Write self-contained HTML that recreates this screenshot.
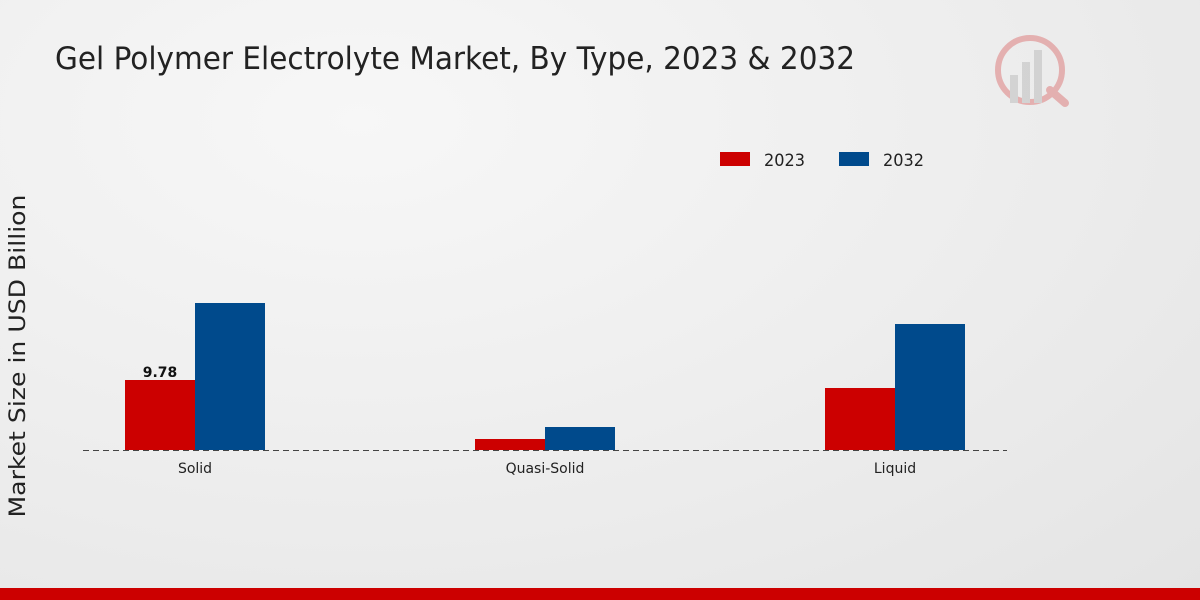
<!DOCTYPE html>
<html><head><meta charset="utf-8"><style>
html,body{margin:0;padding:0;width:1200px;height:600px;overflow:hidden}
body{background:radial-gradient(ellipse at 30% 20%,#f7f7f7 0%,#ececec 60%,#e4e4e4 100%);font-family:"DejaVu Sans","Liberation Sans",sans-serif}
</style></head><body>
<svg width="1200" height="600" xmlns="http://www.w3.org/2000/svg" style="position:absolute;left:0;top:0">
<text x="55" y="69" font-size="31" fill="#222" textLength="800" lengthAdjust="spacingAndGlyphs" font-family="DejaVu Sans, sans-serif">Gel Polymer Electrolyte Market, By Type, 2023 &amp; 2032</text>
<g opacity="0.25">
<circle cx="1030" cy="70" r="32" fill="none" stroke="#c00" stroke-width="6"/>
<rect x="1010" y="75" width="8" height="28" fill="#888"/><rect x="1022" y="62" width="8" height="41" fill="#888"/><rect x="1034" y="50" width="8" height="53" fill="#888"/>
<line x1="1050" y1="90" x2="1065" y2="103" stroke="#c00" stroke-width="8" stroke-linecap="round"/>
</g>
<rect x="720" y="152" width="30" height="14" fill="#cc0000"/>
<text x="764" y="166" font-size="17" fill="#222" textLength="41" lengthAdjust="spacingAndGlyphs">2023</text>
<rect x="839" y="152" width="30" height="14" fill="#004a8c"/>
<text x="883" y="166" font-size="17" fill="#222" textLength="41" lengthAdjust="spacingAndGlyphs">2032</text>
<text transform="translate(25,356) rotate(-90)" text-anchor="middle" font-size="22" fill="#222" textLength="323" lengthAdjust="spacingAndGlyphs">Market Size in USD Billion</text>
<rect x="125" y="380" width="70" height="70" fill="#cc0000"/>
<rect x="195" y="303" width="70" height="147" fill="#004a8c"/>
<rect x="475" y="439" width="70" height="11" fill="#cc0000"/>
<rect x="545" y="427" width="70" height="23" fill="#004a8c"/>
<rect x="825" y="388" width="70" height="62" fill="#cc0000"/>
<rect x="895" y="324" width="70" height="126" fill="#004a8c"/>
<line x1="83" y1="450.5" x2="1007" y2="450.5" stroke="#444" stroke-width="1" stroke-dasharray="6,4"/>
<text x="160" y="377" text-anchor="middle" font-size="14" font-weight="bold" fill="#111">9.78</text>
<text x="195" y="473" text-anchor="middle" font-size="14" fill="#222">Solid</text>
<text x="545" y="473" text-anchor="middle" font-size="14" fill="#222">Quasi-Solid</text>
<text x="895" y="473" text-anchor="middle" font-size="14" fill="#222">Liquid</text>
<rect x="0" y="588" width="1200" height="12" fill="#cc0000"/>
</svg>
</body></html>
